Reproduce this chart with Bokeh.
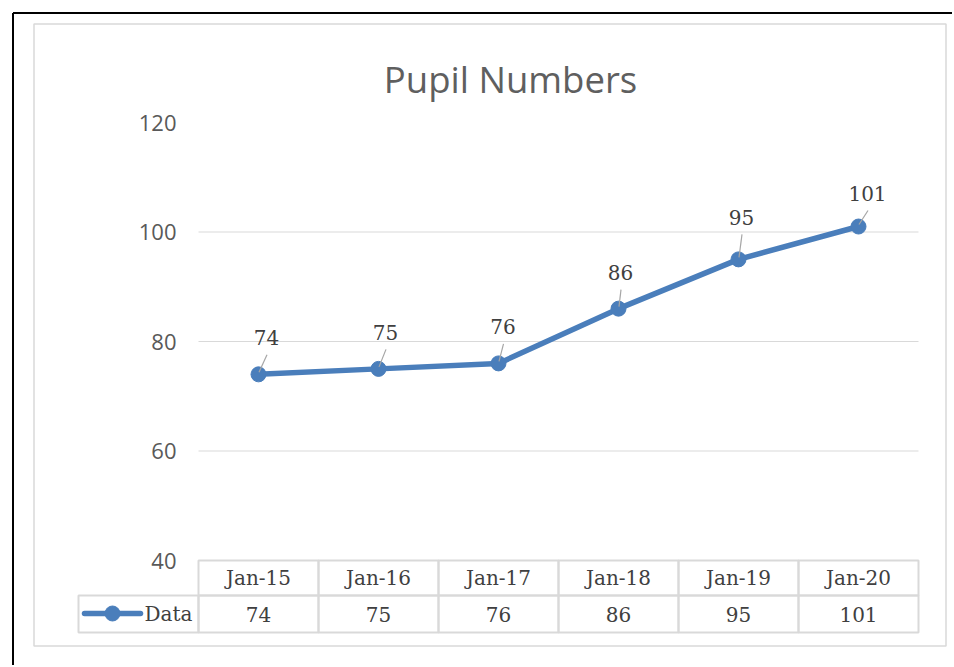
from bokeh.plotting import figure
from bokeh.models import Range1d, ColumnDataSource
from bokeh.core.properties import value
from bokeh.embed import file_html
from bokeh.resources import INLINE

# ---- data ----
categories = ["Jan-15", "Jan-16", "Jan-17", "Jan-18", "Jan-19", "Jan-20"]
pupils = [74, 75, 76, 86, 95, 101]
y_ticks = [40, 60, 80, 100, 120]
grid_values = [60, 80, 100]
series_name = "Data"
title_text = "Pupil Numbers"

# ---- layout helpers (page pixels -> data units) ----
PX_X = 120.0      # pixels per category
PX_Y = 5.475      # pixels per pupil
X0_PAGE = 258.0   # page x of first category
Y40_PAGE = 560.0  # page y of value 40
OFF = 0           # page offset of the canvas


def dxp(px):
    return (px - X0_PAGE) / PX_X


def dyp(py):
    return 40 + (Y40_PAGE - py) / PX_Y


W, H = 952, 665
idx = list(range(len(categories)))

p = figure(width=W, height=H, output_backend="svg", toolbar_location=None,
           x_range=Range1d(dxp(OFF), dxp(OFF + W)), y_range=Range1d(dyp(OFF + H), dyp(OFF)),
           x_axis_location=None, y_axis_location=None, min_border=0,
           outline_line_color=None, background_fill_color="white",
           border_fill_color="white")
p.grid.visible = False

BLUE = "#4a7ebb"
GRID = "#d9d9d9"
SERIF = value("DejaVu Serif")
SANS = value("Open Sans")

# outer black border (top and left)
p.segment(x0=[dxp(12.5), dxp(12.5)], y0=[dyp(12.5), dyp(12.5)],
          x1=[dxp(OFF + W), dxp(12.5)], y1=[dyp(12.5), dyp(OFF + H)],
          line_color="black", line_width=2)

# chart area box
p.quad(left=[dxp(33.5)], right=[dxp(945.5)], top=[dyp(23.5)], bottom=[dyp(645.5)],
       fill_color=None, line_color=GRID, line_width=1.5)

# title
p.text(x=[dxp(510)], y=[dyp(78)], text=[title_text], text_font=SANS,
       text_font_size="36.5px", text_color="#5f5f5f", text_align="center",
       text_baseline="middle")

# y tick labels
p.text(x=[dxp(176)] * len(y_ticks), y=y_ticks, text=[str(t) for t in y_ticks],
       text_font=SANS, text_font_size="22px", text_color="#595959",
       text_align="right", text_baseline="middle")

# gridlines
p.segment(x0=[-0.5] * len(grid_values), x1=[len(categories) - 0.5] * len(grid_values),
          y0=grid_values, y1=grid_values, line_color=GRID, line_width=1.2)

# data table
row_mid = dyp(595)
row_bot = dyp(632)
p.quad(left=[i - 0.5 for i in idx], right=[i + 0.5 for i in idx],
       top=[y_ticks[0]] * len(idx), bottom=[row_mid] * len(idx),
       fill_color=None, line_color=GRID, line_width=2)
p.quad(left=[dxp(78)] + [i - 0.5 for i in idx], right=[-0.5] + [i + 0.5 for i in idx],
       top=[row_mid] * (len(idx) + 1), bottom=[row_bot] * (len(idx) + 1),
       fill_color=None, line_color=GRID, line_width=2)
p.text(x=idx, y=[dyp(577.5)] * len(idx), text=categories, text_font=SERIF,
       text_font_size="20px", text_color="#404040", text_align="center",
       text_baseline="middle")
p.text(x=idx, y=[dyp(613.5)] * len(idx), text=[str(v) for v in pupils],
       text_font=SERIF, text_font_size="20px", text_color="#404040",
       text_align="center", text_baseline="middle")

# legend key in table
p.segment(x0=[dxp(84)], x1=[dxp(140)], y0=[dyp(613)], y1=[dyp(613)],
          line_color=BLUE, line_width=5.5, line_cap="round")
p.scatter(x=[dxp(112)], y=[dyp(613)], size=15, color=BLUE)
p.text(x=[dxp(144)], y=[dyp(613.5)], text=[series_name], text_font=SERIF,
       text_font_size="20px", text_color="#404040", text_align="left",
       text_baseline="middle")

# series
src = ColumnDataSource(dict(x=idx, y=pupils))
p.line("x", "y", source=src, line_color=BLUE, line_width=5.5, line_join="round")
p.scatter("x", "y", source=src, size=15, color=BLUE)

# data labels with leader lines (offsets in pixels)
lab_right = [8, 7, 4.5, 2, 3, 9]
lab_up = [36.5, 36.5, 36.5, 36, 42, 33]
lx = [i + r / PX_X for i, r in zip(idx, lab_right)]
ly = [v + u / PX_Y for v, u in zip(pupils, lab_up)]
p.segment(x0=[i + 0.5 / PX_X for i in idx], y0=[v + 2 / PX_Y for v in pupils],
          x1=[i + (r + 0.5) / PX_X for i, r in zip(idx, lab_right)],
          y1=[v + (u - 17) / PX_Y for v, u in zip(pupils, lab_up)],
          line_color="#a6a6a6", line_width=1.2)
p.text(x=lx, y=ly, text=[str(v) for v in pupils], text_font=SERIF,
       text_font_size="20px", text_color="#404040", text_align="center",
       text_baseline="middle")

open("out.html", "w").write(file_html(p, INLINE))
